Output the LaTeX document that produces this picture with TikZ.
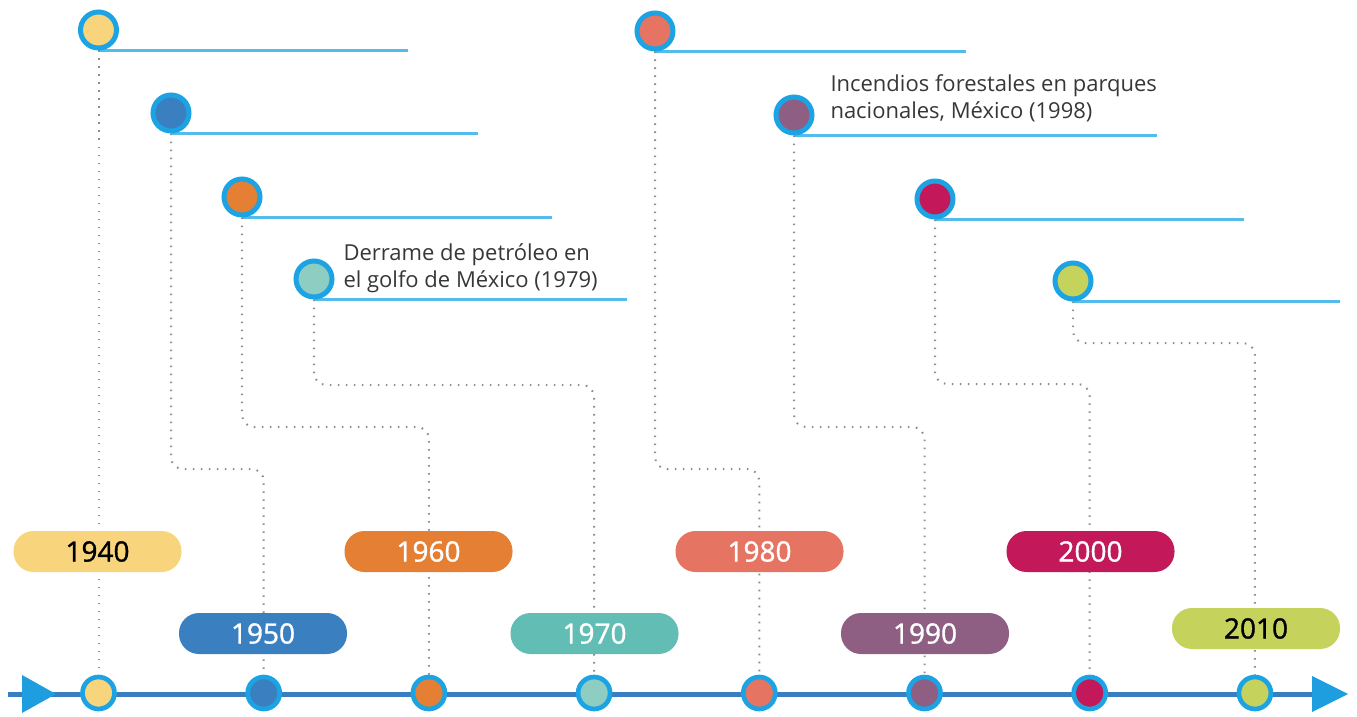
\documentclass[tikz,border=0pt]{standalone}
\usepackage{fontspec}
\setmainfont{Open Sans}
\newfontfamily\yearfont[FakeBold=1.2]{Open Sans}
\usetikzlibrary{backgrounds}

\definecolor{ringblue}{RGB}{28,163,227}
\definecolor{axisblue}{RGB}{56,126,192}
\definecolor{arrowblue}{RGB}{30,158,222}
\definecolor{lineblue}{RGB}{84,188,236}
\definecolor{dotgray}{RGB}{140,140,140}
\definecolor{txtgray}{RGB}{55,55,55}
\definecolor{c1940}{RGB}{248,212,125}
\definecolor{c1950}{RGB}{58,128,193}
\definecolor{c1960}{RGB}{228,127,52}
\definecolor{c1970}{RGB}{98,189,180}
\definecolor{c1970dot}{RGB}{142,205,193}
\definecolor{c1980}{RGB}{229,116,99}
\definecolor{c1990}{RGB}{142,94,131}
\definecolor{c2000}{RGB}{195,24,90}
\definecolor{c2010}{RGB}{197,211,92}

\tikzset{every picture/.style={line width=0.75pt}}
\tikzset{
  evdot/.style={circle, draw=ringblue, line width=3.75pt, minimum size=27pt, inner sep=0pt, fill=#1},
  tickdot/.style={circle, draw=ringblue, line width=3.5pt, minimum size=24pt, inner sep=0pt, fill=#1},
  yearpill/.style={rectangle, rounded corners=15pt, minimum width=126pt, minimum height=30.75pt, inner sep=0pt, fill=#1, text=white, font=\yearfont\fontsize{21}{21}\selectfont},
  dotline/.style={draw=dotgray, line width=1.5pt, dash pattern=on 1.2pt off 4.8pt, rounded corners=9pt},
  underline/.style={draw=lineblue, line width=1.9pt},
  axisline/.style={draw=axisblue, line width=3.75pt},
  eventtext/.style={anchor=south west, align=left, inner sep=0pt, text=txtgray, font=\fontsize{16.5}{20}\selectfont}
}

\begin{document}
\begin{tikzpicture}[x=0.75pt,y=0.75pt,yscale=-1,xscale=1]
\useasboundingbox (0,0) rectangle (1357,717);

%Shape: Circle (events)
\node [evdot=c1940] (ev1940) at (98.5,30) {};
\node [evdot=c1950] (ev1950) at (171,113) {};
\node [evdot=c1960] (ev1960) at (242,197) {};
\node [evdot=c1970dot] (ev1970) at (314,279) {};
\node [evdot=c1980] (ev1980) at (655,31) {};
\node [evdot=c1990] (ev1990) at (794,115) {};
\node [evdot=c2000] (ev2000) at (935,199) {};
\node [evdot=c2010] (ev2010) at (1073,281) {};

%Shape: Circle (axis)
\node [tickdot=c1940] (tk1940) at (98.5,693) {};
\node [tickdot=c1950] (tk1950) at (263.7,693) {};
\node [tickdot=c1960] (tk1960) at (428.9,693) {};
\node [tickdot=c1970dot] (tk1970) at (594.1,693) {};
\node [tickdot=c1980] (tk1980) at (759.3,693) {};
\node [tickdot=c1990] (tk1990) at (924.5,693) {};
\node [tickdot=c2000] (tk2000) at (1089.7,693) {};
\node [tickdot=c2010] (tk2010) at (1254.9,693) {};

% Text Node
\node [yearpill=c1940, text=black] (yr1940) at (97.5,551.5) {1940};
% Text Node
\node [yearpill=c1950] (yr1950) at (263,633.5) {1950};
% Text Node
\node [yearpill=c1960] (yr1960) at (428.5,551.5) {1960};
% Text Node
\node [yearpill=c1970] (yr1970) at (594.5,633.5) {1970};
% Text Node
\node [yearpill=c1980] (yr1980) at (759.5,551.5) {1980};
% Text Node
\node [yearpill=c1990] (yr1990) at (925,633.5) {1990};
% Text Node
\node [yearpill=c2000] (yr2000) at (1090.5,551.5) {2000};
% Text Node
\node [yearpill=c2010, text=black] (yr2010) at (1256,628.5) {2010};

% Text Node
\node [eventtext] (tx1979) at (343,293) {Derrame de petróleo en\\el golfo de México (1979)};
% Text Node
\node [eventtext] (tx1998) at (830,122) {Incendios forestales en parques\\nacionales, México (1998)};

\begin{pgfonlayer}{background}
%Straight Lines (axis)
\draw [axisline] (8,694) -- (1315,694);
\fill [arrowblue] (22,675) -- (56,694) -- (22,713) -- cycle;
\fill [arrowblue] (1312,676) -- (1348,694) -- (1312,712) -- cycle;

%Straight Lines (underlines)
\coordinate (ul1940) at (408,50.5);
\coordinate (ul1950) at (478,133.5);
\coordinate (ul1960) at (552,217.5);
\coordinate (ul1970) at (627,299.5);
\coordinate (ul1980) at (966,51.5);
\coordinate (ul1990) at (1157,135.5);
\coordinate (ul2000) at (1244,219.5);
\coordinate (ul2010) at (1340,301.5);
\draw [underline] (ev1940.south) -- (ul1940);
\draw [underline] (ev1950.south) -- (ul1950);
\draw [underline] (ev1960.south) -- (ul1960);
\draw [underline] (ev1970.south) -- (ul1970);
\draw [underline] (ev1980.south) -- (ul1980);
\draw [underline] (ev1990.south) -- (ul1990);
\draw [underline] (ev2000.south) -- (ul2000);
\draw [underline] (ev2010.south) -- (ul2010);

%Dotted Lines (connectors)
\draw [dotline] (ev1940.south) -- (tk1940.north);
\draw [dotline] (ev1950.south) -- (ev1950 |- 0,469) -- (tk1950 |- 0,469) -- (tk1950.north);
\draw [dotline] (ev1960.south) -- (ev1960 |- 0,427) -- (tk1960 |- 0,427) -- (tk1960.north);
\draw [dotline] (ev1970.south) -- (ev1970 |- 0,385) -- (tk1970 |- 0,385) -- (tk1970.north);
\draw [dotline] (ev1980.south) -- (ev1980 |- 0,469) -- (tk1980 |- 0,469) -- (tk1980.north);
\draw [dotline] (ev1990.south) -- (ev1990 |- 0,427) -- (tk1990 |- 0,427) -- (tk1990.north);
\draw [dotline] (ev2000.south) -- (ev2000 |- 0,384) -- (tk2000 |- 0,384) -- (tk2000.north);
\draw [dotline] (ev2010.south) -- (ev2010 |- 0,343) -- (tk2010 |- 0,343) -- (tk2010.north);
\end{pgfonlayer}

\end{tikzpicture}
\end{document}
